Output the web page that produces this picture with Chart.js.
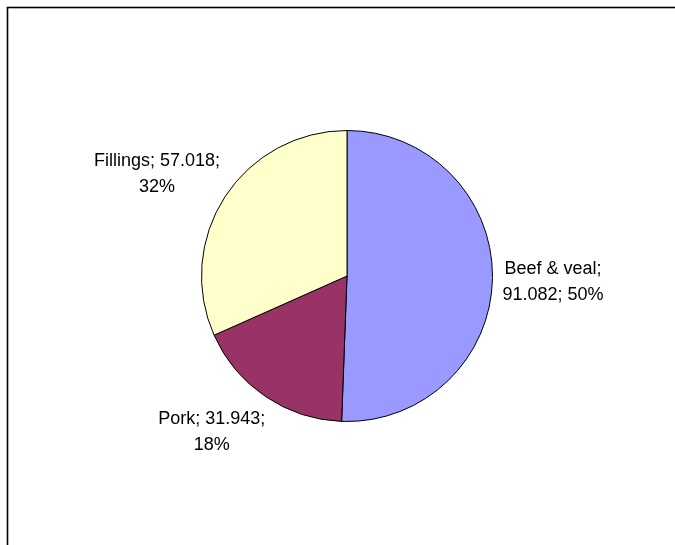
<!DOCTYPE html>
<html>
<head>
<meta charset="utf-8">
<script src="https://cdn.jsdelivr.net/npm/chart.js@4/dist/chart.umd.min.js"></script>
<style>
  html, body { margin: 0; padding: 0; background: #fff; }
  #wrap { width: 675px; height: 545px; }
</style>
</head>
<body>
<div id="wrap"><canvas id="pie" width="675" height="545"></canvas></div>
<script>
const categories = ["Beef & veal", "Pork", "Fillings"];
const values = [91.082, 31.943, 57.018];
const valueLabels = ["91.082", "31.943", "57.018"];
const percentLabels = ["50%", "18%", "32%"];
const colors = ["#9999FF", "#993366", "#FFFFCC"];

// label lines, split the way the picture wraps them
const labelLines = [
    [categories[0] + ";", valueLabels[0] + "; " + percentLabels[0]],
    [categories[1] + "; " + valueLabels[1] + ";", percentLabels[1]],
    [categories[2] + "; " + valueLabels[2] + ";", percentLabels[2]],
];
// small hand nudges, Excel doesn't place them purely radial
const labelNudge = [[-2, 3], [-17, 4], [-5, -2]];

const frame = {
    id: "frame",
    beforeDraw(chart) {
        const c = chart.ctx;
        c.save();
        c.fillStyle = "#fff";
        c.fillRect(0, 0, chart.width, chart.height);
        c.strokeStyle = "#000";
        c.lineWidth = 1.6;
        c.strokeRect(7.5, 7.5, chart.width + 20, chart.height + 20);
        c.restore();
    },
};

// labels outside the slices
const outLabels = {
    id: "outLabels",
    afterDatasetsDraw(chart) {
        const c = chart.ctx;
        const meta = chart.getDatasetMeta(0);
        c.save();
        c.font = "18px 'Liberation Sans', Arial, sans-serif";
        c.fillStyle = "#000";
        c.textAlign = "center";
        c.textBaseline = "middle";
        const lh = 26;
        meta.data.forEach((arc, i) => {
            const mid = (arc.startAngle + arc.endAngle) / 2;
            const r = arc.outerRadius + 12;
            const ax = arc.x + Math.cos(mid) * r;
            const ay = arc.y + Math.sin(mid) * r;
            const lines = labelLines[i];
            const w = Math.max(...lines.map(l => c.measureText(l).width));
            const h = lines.length * lh;
            const cx = ax + Math.cos(mid) * w / 2 + labelNudge[i][0];
            const cy = ay + Math.sin(mid) * h / 2 + labelNudge[i][1];
            lines.forEach((l, k) => {
                c.fillText(l, cx, cy - h / 2 + lh / 2 + k * lh);
            });
        });
        c.restore();
    },
};

new Chart(document.getElementById("pie").getContext("2d"), {
    type: "pie",
    data: {
        labels: categories,
        datasets: [
            {
                data: values,
                backgroundColor: colors,
                borderColor: "#000",
                borderWidth: 1,
            },
        ],
    },
    options: {
        responsive: false,
        animation: false,
        layout: { padding: { left: 201, right: 182, top: 130, bottom: 123 } },
        plugins: {
            legend: { display: false },
            tooltip: { enabled: false },
        },
    },
    plugins: [frame, outLabels],
});
</script>
</body>
</html>
